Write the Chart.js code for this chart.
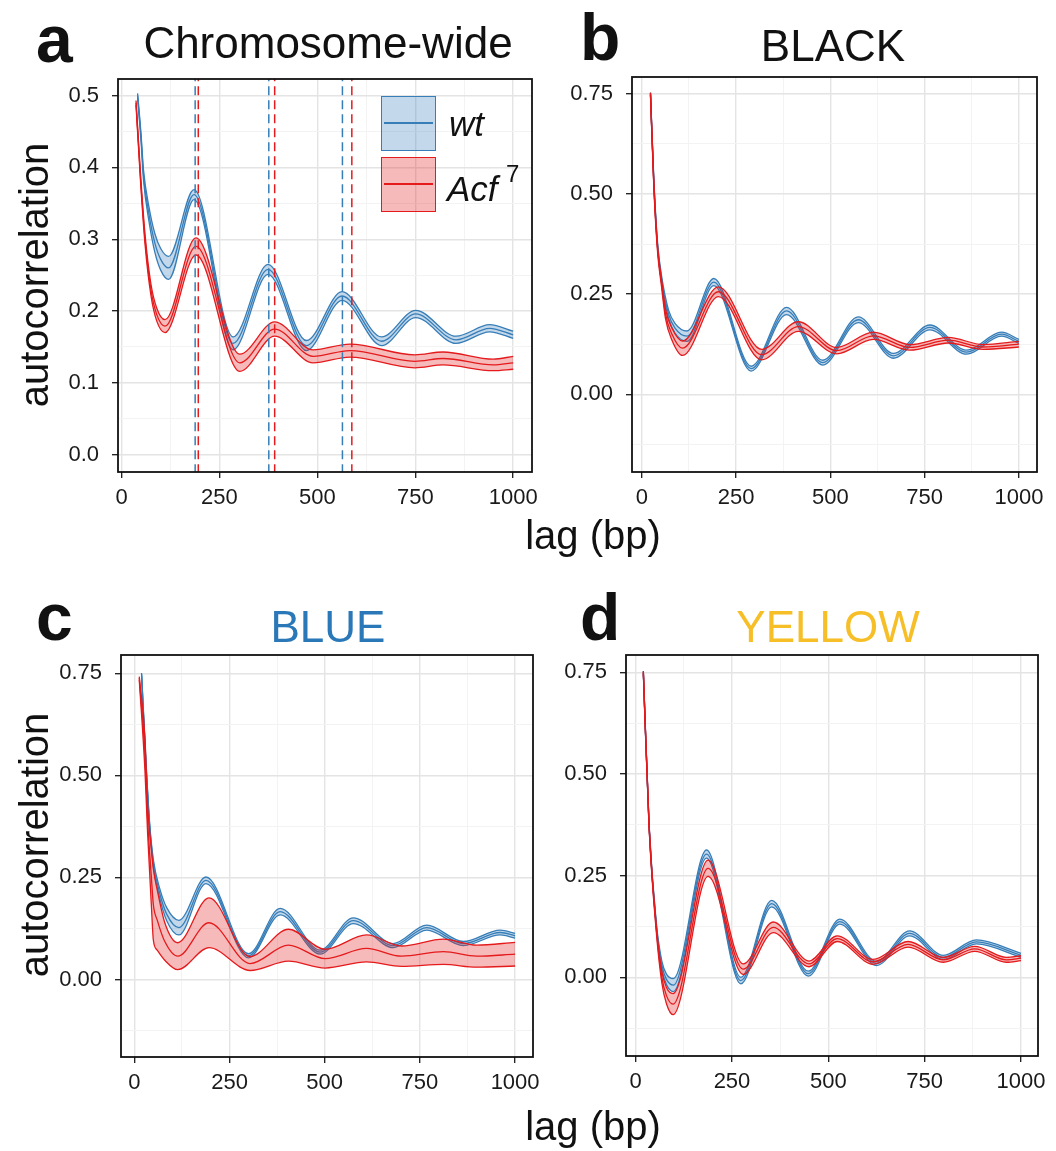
<!DOCTYPE html>
<html lang="en">
<head>
<meta charset="UTF-8">
<title>Autocorrelation of nucleosome signal</title>
<script src="https://cdn.jsdelivr.net/npm/chart.js@4"></script>
<style>
  body { margin: 0; background: #fff; font-family: "Liberation Sans", Arial, sans-serif; }
  #fig { position: relative; width: 1056px; height: 1151px; overflow: hidden; background: #fff; }
  #fig canvas { position: absolute; }
  .txt { position: absolute; white-space: nowrap; line-height: 1; color: #111; }
  .letter { font-weight: bold; font-size: 66px; }
  .title { font-size: 44px; width: 600px; text-align: center; }
  .axis { font-size: 40px; width: 300px; text-align: center; }
  .ylab { font-size: 40px; width: 320px; height: 40px; text-align: center; transform: rotate(-90deg); }
  .key { position: absolute; width: 53px; height: 53px; }
  .key span { position: absolute; left: 2px; top: 25px; width: 49px; height: 1.5px; }
  .lbl { font-style: italic; font-size: 35px; }
</style>
</head>
<body>
<div id="fig">
  <div class="txt letter" style="left:36px; top:6px;">a</div>
  <div class="txt letter" style="left:580px; top:4px;">b</div>
  <div class="txt letter" style="left:36px; top:584px;">c</div>
  <div class="txt letter" style="left:580px; top:584px;">d</div>

  <div class="txt title" style="left:28px; top:21px;">Chromosome-wide</div>
  <div class="txt title" style="left:533px; top:24px;">BLACK</div>
  <div class="txt title" style="left:28px; top:605px; color:#2a78b8;">BLUE</div>
  <div class="txt title" style="left:528px; top:605px; color:#f6be27;">YELLOW</div>

  <div class="txt ylab" style="left:-126px; top:255px;">autocorrelation</div>
  <div class="txt ylab" style="left:-126px; top:825px;">autocorrelation</div>
  <div class="txt axis" style="left:443px; top:515px;">lag (bp)</div>
  <div class="txt axis" style="left:443px; top:1106px;">lag (bp)</div>
</div>

<script>
// axis ticks
const lagTicks = [0, 250, 500, 750, 1000];
const lagTickLabels = ['0', '250', '500', '750', '1000'];
const lagMinorTicks = [125, 375, 625, 875];

const acfTicksA = [0, 0.1, 0.2, 0.3, 0.4, 0.5];
const acfTickLabelsA = ['0.0', '0.1', '0.2', '0.3', '0.4', '0.5'];
const acfMinorTicksA = [0.05, 0.15, 0.25, 0.35, 0.45];

const acfTicks = [0, 0.25, 0.5, 0.75];
const acfTickLabels = ['0.00', '0.25', '0.50', '0.75'];
const acfMinorTicks = [-0.125, 0.125, 0.375, 0.625];

const seriesNames = ['wt', 'Acf7'];

// a: chromosome-wide  (mean autocorrelation and half width of the band)
const aWtLag  = [41, 50, 56, 70, 85, 100, 120, 185, 285, 374, 472, 563, 664, 751, 854, 940, 1000];
const aWtMean = [0.500, 0.440, 0.390, 0.335, 0.295, 0.272, 0.260, 0.362, 0.155, 0.258, 0.152, 0.221, 0.158, 0.196, 0.160, 0.176, 0.167];
const aWtHalf = [0.003, 0.005, 0.007, 0.010, 0.013, 0.015, 0.016, 0.007, 0.009, 0.007, 0.007, 0.006, 0.006, 0.005, 0.005, 0.005, 0.005];
const aAcfLag  = [37, 48, 60, 75, 90, 111, 190, 302, 391, 489, 583, 749, 821, 949, 1000];
const aAcfMean = [0.490, 0.390, 0.300, 0.230, 0.195, 0.179, 0.290, 0.128, 0.175, 0.137, 0.145, 0.130, 0.134, 0.125, 0.128];
const aAcfHalf = [0.003, 0.005, 0.007, 0.008, 0.009, 0.009, 0.012, 0.012, 0.010, 0.009, 0.009, 0.009, 0.009, 0.008, 0.009];
const aWtPeaks  = [188, 376, 564];
const aAcfPeaks = [196, 391, 588];

// b: BLACK
const bWtLag  = [23, 32, 42, 52, 71, 88, 120, 191, 290, 384, 480, 574, 667, 764, 861, 954, 1000];
const bWtMean = [0.750, 0.530, 0.370, 0.290, 0.200, 0.165, 0.145, 0.280, 0.064, 0.208, 0.079, 0.186, 0.096, 0.167, 0.105, 0.150, 0.132];
const bWtHalf = [0.003, 0.005, 0.006, 0.008, 0.010, 0.012, 0.013, 0.009, 0.006, 0.009, 0.006, 0.007, 0.006, 0.006, 0.005, 0.005, 0.005];
const bAcfLag  = [23, 32, 42, 52, 63, 80, 108, 203, 318, 415, 517, 614, 711, 813, 905, 1000];
const bAcfMean = [0.750, 0.520, 0.360, 0.280, 0.200, 0.150, 0.115, 0.256, 0.099, 0.169, 0.109, 0.146, 0.117, 0.135, 0.118, 0.125];
const bAcfHalf = [0.003, 0.005, 0.007, 0.009, 0.012, 0.015, 0.018, 0.012, 0.013, 0.012, 0.008, 0.009, 0.007, 0.007, 0.006, 0.007];

// c: BLUE
const cWtLag  = [19, 30, 40, 50, 67, 85, 117, 188, 300, 383, 488, 575, 680, 768, 864, 961, 1000];
const cWtMean = [0.748, 0.540, 0.380, 0.285, 0.210, 0.160, 0.127, 0.243, 0.058, 0.166, 0.067, 0.144, 0.083, 0.127, 0.088, 0.115, 0.107];
const cWtHalf = [0.003, 0.005, 0.006, 0.008, 0.012, 0.016, 0.018, 0.008, 0.005, 0.008, 0.005, 0.007, 0.005, 0.006, 0.005, 0.006, 0.006];
const cAcfLag  = [13, 28, 35, 45, 50, 60, 80, 114, 196, 304, 405, 501, 610, 702, 812, 899, 1000];
const cAcfMean = [0.738, 0.550, 0.390, 0.247, 0.183, 0.146, 0.093, 0.057, 0.139, 0.039, 0.084, 0.051, 0.076, 0.057, 0.068, 0.057, 0.062];
const cAcfHalf = [0.004, 0.040, 0.034, 0.070, 0.087, 0.074, 0.046, 0.033, 0.061, 0.017, 0.039, 0.023, 0.033, 0.025, 0.031, 0.027, 0.029];

// d: YELLOW
const dWtLag  = [20, 35, 54, 68, 80, 98, 184, 273, 353, 448, 530, 625, 711, 798, 884, 1000];
const dWtMean = [0.750, 0.370, 0.125, 0.030, -0.005, -0.019, 0.303, -0.008, 0.181, 0.009, 0.137, 0.034, 0.108, 0.049, 0.087, 0.054];
const dWtHalf = [0.003, 0.004, 0.006, 0.010, 0.013, 0.016, 0.010, 0.008, 0.008, 0.006, 0.006, 0.005, 0.006, 0.005, 0.005, 0.005];
const dAcfLag  = [20, 35, 54, 68, 80, 97, 188, 279, 357, 450, 523, 616, 707, 798, 880, 962, 1000];
const dAcfMean = [0.750, 0.370, 0.115, 0.000, -0.045, -0.066, 0.268, 0.020, 0.123, 0.033, 0.095, 0.038, 0.081, 0.043, 0.070, 0.043, 0.047];
const dAcfHalf = [0.003, 0.004, 0.008, 0.014, 0.020, 0.026, 0.020, 0.013, 0.013, 0.007, 0.007, 0.006, 0.007, 0.006, 0.006, 0.006, 0.006];

const BLUE = '#377EB8', RED = '#E41A1C';
const BLUE_FILL = 'rgba(55,126,184,0.3)', RED_FILL = 'rgba(228,26,28,0.3)';

Chart.defaults.font.family = '"Liberation Sans", Arial, sans-serif';

// mean line, upper edge, lower edge (filled back to the upper one)
function band(lag, mean, half, color, fill, order, name) {
  const pts = sign => lag.map((x, i) => ({ x: x, y: mean[i] + sign * half[i] }));
  const base = { borderColor: color, borderWidth: 1.3, pointRadius: 0, cubicInterpolationMode: 'monotone', order: order, fill: false };
  return [
    Object.assign({}, base, { label: name, data: pts(0) }),
    Object.assign({}, base, { label: name + ' upper', data: pts(1) }),
    Object.assign({}, base, { label: name + ' lower', data: pts(-1), fill: '-1', backgroundColor: fill })
  ];
}

function vlines(xs, color) {
  return xs.map(x => ({
    data: [{ x: x, y: -1 }, { x: x, y: 1 }],
    borderColor: color, borderWidth: 1.5, borderDash: [9, 5],
    pointRadius: 0, order: 0, fill: false
  }));
}

function tickList(major, labels, minor) {
  const t = major.map((v, i) => ({ value: v, txt: labels[i], minor: false }))
    .concat(minor.map(v => ({ value: v, txt: '', minor: true })));
  return t.sort((p, q) => p.value - q.value);
}

const isMinor = ctx => ctx.tick && ctx.tick.minor;
const gridOpts = {
  color: ctx => isMinor(ctx) ? '#f3f3f3' : '#e4e4e4',
  lineWidth: ctx => isMinor(ctx) ? 1 : 1.4,
  tickColor: ctx => isMinor(ctx) ? 'rgba(0,0,0,0)' : '#1a1a1a',
  tickWidth: 1.3,
  tickLength: 6,
  drawTicks: true
};

const framePlugin = {
  id: 'frame',
  afterDraw(chart) {
    const a = chart.chartArea, c = chart.ctx;
    c.save();
    c.strokeStyle = '#111';
    c.lineWidth = 1.8;
    c.strokeRect(a.left, a.top, a.right - a.left, a.bottom - a.top);
    c.restore();
  }
};

const PAD_L = 66, PAD_T = 24, PAD_R = 28, PAD_B = 48;
const fig = document.getElementById('fig');

function makePanel(rect, xr, yr, yTicks, datasets) {
  const cv = document.createElement('canvas');
  const w = rect.r - rect.l + PAD_L + PAD_R, h = rect.b - rect.t + PAD_T + PAD_B;
  cv.width = w; cv.height = h;
  cv.style.width = w + 'px'; cv.style.height = h + 'px';
  cv.style.left = (rect.l - PAD_L) + 'px';
  cv.style.top = (rect.t - PAD_T) + 'px';
  fig.insertBefore(cv, fig.firstChild);

  const tickFont = { size: 22 };
  return new Chart(cv, {
    type: 'line',
    data: { datasets: datasets },
    options: {
      responsive: false,
      animation: false,
      devicePixelRatio: 1,
      layout: { padding: { left: 0, top: PAD_T, right: PAD_R, bottom: 0 } },
      plugins: { legend: { display: false }, tooltip: { enabled: false } },
      scales: {
        x: {
          type: 'linear', bounds: 'data', min: xr[0], max: xr[1],
          afterBuildTicks: s => { s.ticks = tickList(lagTicks, lagTickLabels, lagMinorTicks); },
          afterFit: s => { s.height = PAD_B; s.paddingLeft = 0; s.paddingRight = 0; },
          grid: gridOpts,
          border: { display: false },
          ticks: { autoSkip: false, maxRotation: 0, padding: 7, color: '#1a1a1a', font: tickFont,
                   callback: (v, i, ts) => ts[i].txt }
        },
        y: {
          type: 'linear', bounds: 'data', min: yr[0], max: yr[1],
          afterBuildTicks: s => { s.ticks = tickList(yTicks[0], yTicks[1], yTicks[2]); },
          afterFit: s => { s.width = PAD_L; s.paddingTop = 0; s.paddingBottom = 0; },
          grid: gridOpts,
          border: { display: false },
          ticks: { autoSkip: false, padding: 13, color: '#1a1a1a', font: tickFont,
                   callback: (v, i, ts) => ts[i].txt }
        }
      }
    },
    plugins: [framePlugin]
  });
}

const yTicksA = [acfTicksA, acfTickLabelsA, acfMinorTicksA];
const yTicksB = [acfTicks, acfTickLabels, acfMinorTicks];

makePanel({ l: 118, r: 532, t: 79, b: 472 }, [-9, 1048], [-0.024, 0.523], yTicksA,
  vlines(aWtPeaks, BLUE).concat(vlines(aAcfPeaks, RED),
    band(aAcfLag, aAcfMean, aAcfHalf, RED, RED_FILL, 1, seriesNames[1]),
    band(aWtLag, aWtMean, aWtHalf, BLUE, BLUE_FILL, 2, seriesNames[0])));

makePanel({ l: 632, r: 1037, t: 77, b: 472 }, [-26, 1048], [-0.194, 0.792], yTicksB,
  band(bAcfLag, bAcfMean, bAcfHalf, RED, RED_FILL, 1, seriesNames[1]).concat(
    band(bWtLag, bWtMean, bWtHalf, BLUE, BLUE_FILL, 2, seriesNames[0])));

makePanel({ l: 121, r: 533, t: 655, b: 1057 }, [-35, 1047], [-0.19, 0.795], yTicksB,
  band(cAcfLag, cAcfMean, cAcfHalf, RED, RED_FILL, 1, seriesNames[1]).concat(
    band(cWtLag, cWtMean, cWtHalf, BLUE, BLUE_FILL, 2, seriesNames[0])));

makePanel({ l: 626, r: 1038, t: 655, b: 1056 }, [-25, 1044], [-0.1935, 0.7925], yTicksB,
  band(dAcfLag, dAcfMean, dAcfHalf, RED, RED_FILL, 1, seriesNames[1]).concat(
    band(dWtLag, dWtMean, dWtHalf, BLUE, BLUE_FILL, 2, seriesNames[0])));

// legend of panel a
const legendRows = [
  { top: 96, line: BLUE, fill: BLUE_FILL },
  { top: 157, line: RED, fill: RED_FILL }
];
legendRows.forEach(r => {
  const k = document.createElement('div');
  k.className = 'key';
  k.style.left = '381px';
  k.style.top = r.top + 'px';
  k.style.background = r.fill;
  k.style.border = '1.5px solid ' + r.line;
  const s = document.createElement('span');
  s.style.background = r.line;
  k.appendChild(s);
  fig.appendChild(k);
});
const wt = document.createElement('div');
wt.className = 'txt lbl';
wt.style.left = '449px'; wt.style.top = '106px';
wt.textContent = 'wt';
fig.appendChild(wt);
const acf = document.createElement('div');
acf.className = 'txt lbl';
acf.style.left = '447px'; acf.style.top = '171px';
acf.textContent = 'Acf';
fig.appendChild(acf);
const sup = document.createElement('div');
sup.className = 'txt';
sup.style.left = '506px'; sup.style.top = '162px'; sup.style.fontSize = '24px';
sup.textContent = '7';
fig.appendChild(sup);
</script>
</body>
</html>
